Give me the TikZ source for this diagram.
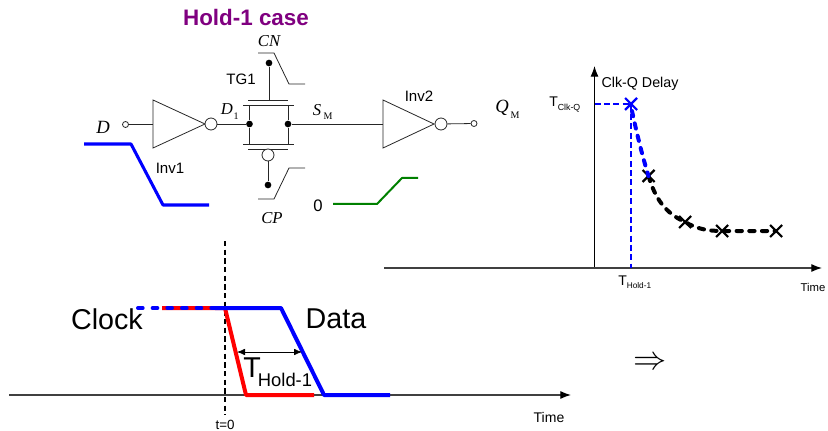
\documentclass[tikz,border=0pt]{standalone}
\usepackage{fontspec}
\setmainfont{Liberation Sans}
\newfontfamily\serifit[Scale=1]{Liberation Serif}
\usetikzlibrary{arrows.meta}
\definecolor{purp}{RGB}{128,0,128}
\definecolor{blu}{RGB}{0,0,255}
\definecolor{grn}{RGB}{0,128,0}
\tikzset{
 wire/.style={draw=black!85,line width=0.6pt},
 rail/.style={draw=black!85,line width=0.7pt},
 dotb/.style={circle,fill=black,inner sep=0pt,minimum size=5pt},
 bub/.style={circle,draw=black!85,fill=white,line width=0.6pt,inner sep=0pt,minimum size=9pt},
 pin/.style={circle,draw=black!85,fill=white,line width=0.6pt,inner sep=0pt,minimum size=4.5pt},
 lab/.style={inner sep=0pt,font=\fontsize{11.3}{13}\selectfont},
 sig/.style={inner sep=0pt,font=\serifit\itshape\fontsize{12.5}{14}\selectfont},
 sigb/.style={inner sep=0pt,font=\serifit\itshape\fontsize{14}{16}\selectfont},
 subs/.style={inner sep=0pt,font=\serifit\fontsize{7.5}{8}\selectfont},
 big/.style={inner sep=0pt,font=\fontsize{21.5}{25}\selectfont},
 thickblue/.style={draw=blu,line width=2.3pt,line join=round},
 botblue/.style={draw=blu,line width=3pt,line join=round},
 botred/.style={draw=red,line width=3pt,line join=round},
 axis/.style={draw=black!75,line width=0.9pt,-{Latex[length=8pt,width=6pt,black]}},
 cross/.style={line width=1.6pt},
 curve/.style={line width=3pt,dash pattern=on 4pt off 5.5pt,line cap=round},
}
\begin{document}
\begin{tikzpicture}[x=0.75pt,y=-0.75pt]
\useasboundingbox (0,0) rectangle (828,431);
% title
\node[inner sep=0pt,text=purp,font=\bfseries\fontsize{16.8}{20}\selectfont] (title) at (246,17) {Hold-1 case};
% circuit
\node[pin] (din) at (125.5,124.5) {};
\coordinate (i1a) at (153,100); \coordinate (i1b) at (153,148); \coordinate (i1c) at (205,124); \coordinate (i1in) at (153,124.5);
\draw[wire] (i1a) -- (i1b) -- (i1c) -- cycle;
\node[bub] (b1) at (211,124) {};
\draw[wire] (din) -- (i1in);
\node[dotb] (tl) at (249.5,124) {};
\node[dotb] (tr) at (288,124) {};
\draw[wire] (b1) -- (tl);
\draw[wire] (249.5,105) -- (tl) -- (249.5,144);
\draw[wire] (288,105) -- (tr) -- (288,144);
\draw[rail] (248,100) -- (288,100);
\draw[rail] (243,105) -- (294,105);
\draw[rail] (243,144) -- (294,144);
\draw[rail] (248,149) -- (288,149);
\node[dotb] (gt) at (269,63) {};
\coordinate (gtb) at (269,100);
\draw[wire] (gt) -- (gtb);
\node[bub] (b2) at (268,155) {};
\node[dotb] (gb) at (268,185) {};
\draw[wire] (b2) -- (gb);
\draw[wire] (258,53) -- (274,53) -- (289,84) -- (305,84);
\draw[wire] (258,199) -- (274,199) -- (289,168) -- (305,168);
\coordinate (i2a) at (383,100); \coordinate (i2b) at (383,148); \coordinate (i2c) at (434,124); \coordinate (i2in) at (383,124);
\draw[wire] (i2a) -- (i2b) -- (i2c) -- cycle;
\draw[wire] (tr) -- (i2in);
\node[bub] (b3) at (441,124) {};
\node[pin] (qout) at (474,123.5) {};
\draw[wire] (b3) -- (qout);
% circuit labels
\node[sigb] (lD) at (103,127) {D};
\node[sig] (lD1) at (227,109) {D};
\node[subs] (lD1s) at (236,116) {1};
\node[sig] (lS) at (317,110) {S};
\node[subs] (lSs) at (328,116) {M};
\node[sigb] (lQ) at (502,108) {Q};
\node[subs] (lQs) at (515,115) {M};
\node[sig] (lCN) at (269,41) {CN};
\node[sig] (lCP) at (272,218) {CP};
\node[lab] (lTG) at (241,79) {TG1};
\node[lab] (lI1) at (170,168) {Inv1};
\node[lab] (lI2) at (419,96) {Inv2};
\node[inner sep=0pt,font=\fontsize{12.5}{15}\selectfont] (l0) at (318,206) {0};
\draw[thickblue] (84,144) -- (131,144) -- (163,205) -- (209,205);
\draw[draw=grn,line width=1.5pt,line join=round] (333,204) -- (377,204) -- (402,178) -- (418,178);
% right plot
\coordinate (oy) at (594.5,268); \coordinate (ty) at (594.5,66);
\coordinate (ox) at (384,268); \coordinate (tx) at (822,268);
\draw[axis,draw=black] (oy) -- (ty);
\draw[axis] (ox) -- (tx);
\coordinate (m1) at (631,104); \coordinate (m2) at (648.5,176); \coordinate (m3) at (685,222); \coordinate (m4) at (722,231); \coordinate (m5) at (776,231);
\coordinate (yt) at (594.5,104); \coordinate (xt) at (631,268);
\draw[blu,line width=1.3pt,dash pattern=on 4.5pt off 2.5pt] (yt) -- (m1) -- (xt);
\draw[black,curve] (m2) .. controls (655,198) and (665,213) .. (m3) .. controls (697,229) and (708,231) .. (m4) -- (m5);
\foreach \p/\c in {m2/black,m3/black,m4/black,m5/black}
  \draw[\c,cross] (\p) ++(-6,-6) -- ++(12,12) ++(-12,0) -- ++(12,-12);
\draw[blu,curve] (m1) ++(1,7) .. controls (636,130) and (642,155) .. (m2);
\draw[blu,cross] (m1) ++(-6,-6) -- ++(12,12) ++(-12,0) -- ++(12,-12);
\node[inner sep=0pt,font=\fontsize{10.7}{13}\selectfont] (lcq) at (640,84) {Clk-Q Delay};
\node[inner sep=0pt,font=\fontsize{10.5}{12}\selectfont,anchor=base west] (ltc) at (549,107) {T\raisebox{-2.5pt}{\fontsize{6.6}{7}\selectfont Clk-Q}};
\node[inner sep=0pt,font=\fontsize{10.5}{12}\selectfont,anchor=base west] (lth) at (618,285) {T\raisebox{-2.5pt}{\fontsize{6.2}{7}\selectfont Hold-1}};
\node[inner sep=0pt,font=\fontsize{8.5}{10}\selectfont] (lt1) at (813,287) {Time};
% bottom waveform
\coordinate (bx0) at (9,395); \coordinate (bx1) at (571,395);
\draw[axis] (bx0) -- (bx1);
\coordinate (vt) at (225,241); \coordinate (vb) at (225,415);
\draw[black,line width=0.8pt,dash pattern=on 4pt off 2.5pt] (vt) -- (vb);
\draw[botred] (162,308) -- (225,308) -- (246,395) -- (314,395);
\draw[blu,line width=3pt,dash pattern=on 3.5pt off 7.5pt,line cap=round] (138,308) -- (216,308);
\draw[botblue] (215,308) -- (281,308) -- (324,395) -- (390,395);
\coordinate (ar1) at (237,352); \coordinate (ar2) at (302,352);
\draw[black,line width=0.6pt,{Latex[length=6pt,width=5pt]}-{Latex[length=6pt,width=5pt]}] (ar1) -- (ar2);
\node[big] (lclk) at (107,319) {Clock};
\node[big] (ldata) at (336,319) {Data};
\node[big,anchor=base west] (lT) at (243,377) {T};
\node[inner sep=0pt,font=\fontsize{13.8}{16}\selectfont] (lH) at (285,380) {Hold-1};
\node[inner sep=0pt,font=\fontsize{10}{12}\selectfont] (lt0) at (225,425) {t=0};
\node[inner sep=0pt,font=\fontsize{10.5}{12}\selectfont] (lt2) at (549,417) {Time};
\node[inner sep=0pt,font=\fontsize{24}{28}\selectfont] (impl) at (650,363) {$\Rightarrow$};
\end{tikzpicture}
\end{document}
